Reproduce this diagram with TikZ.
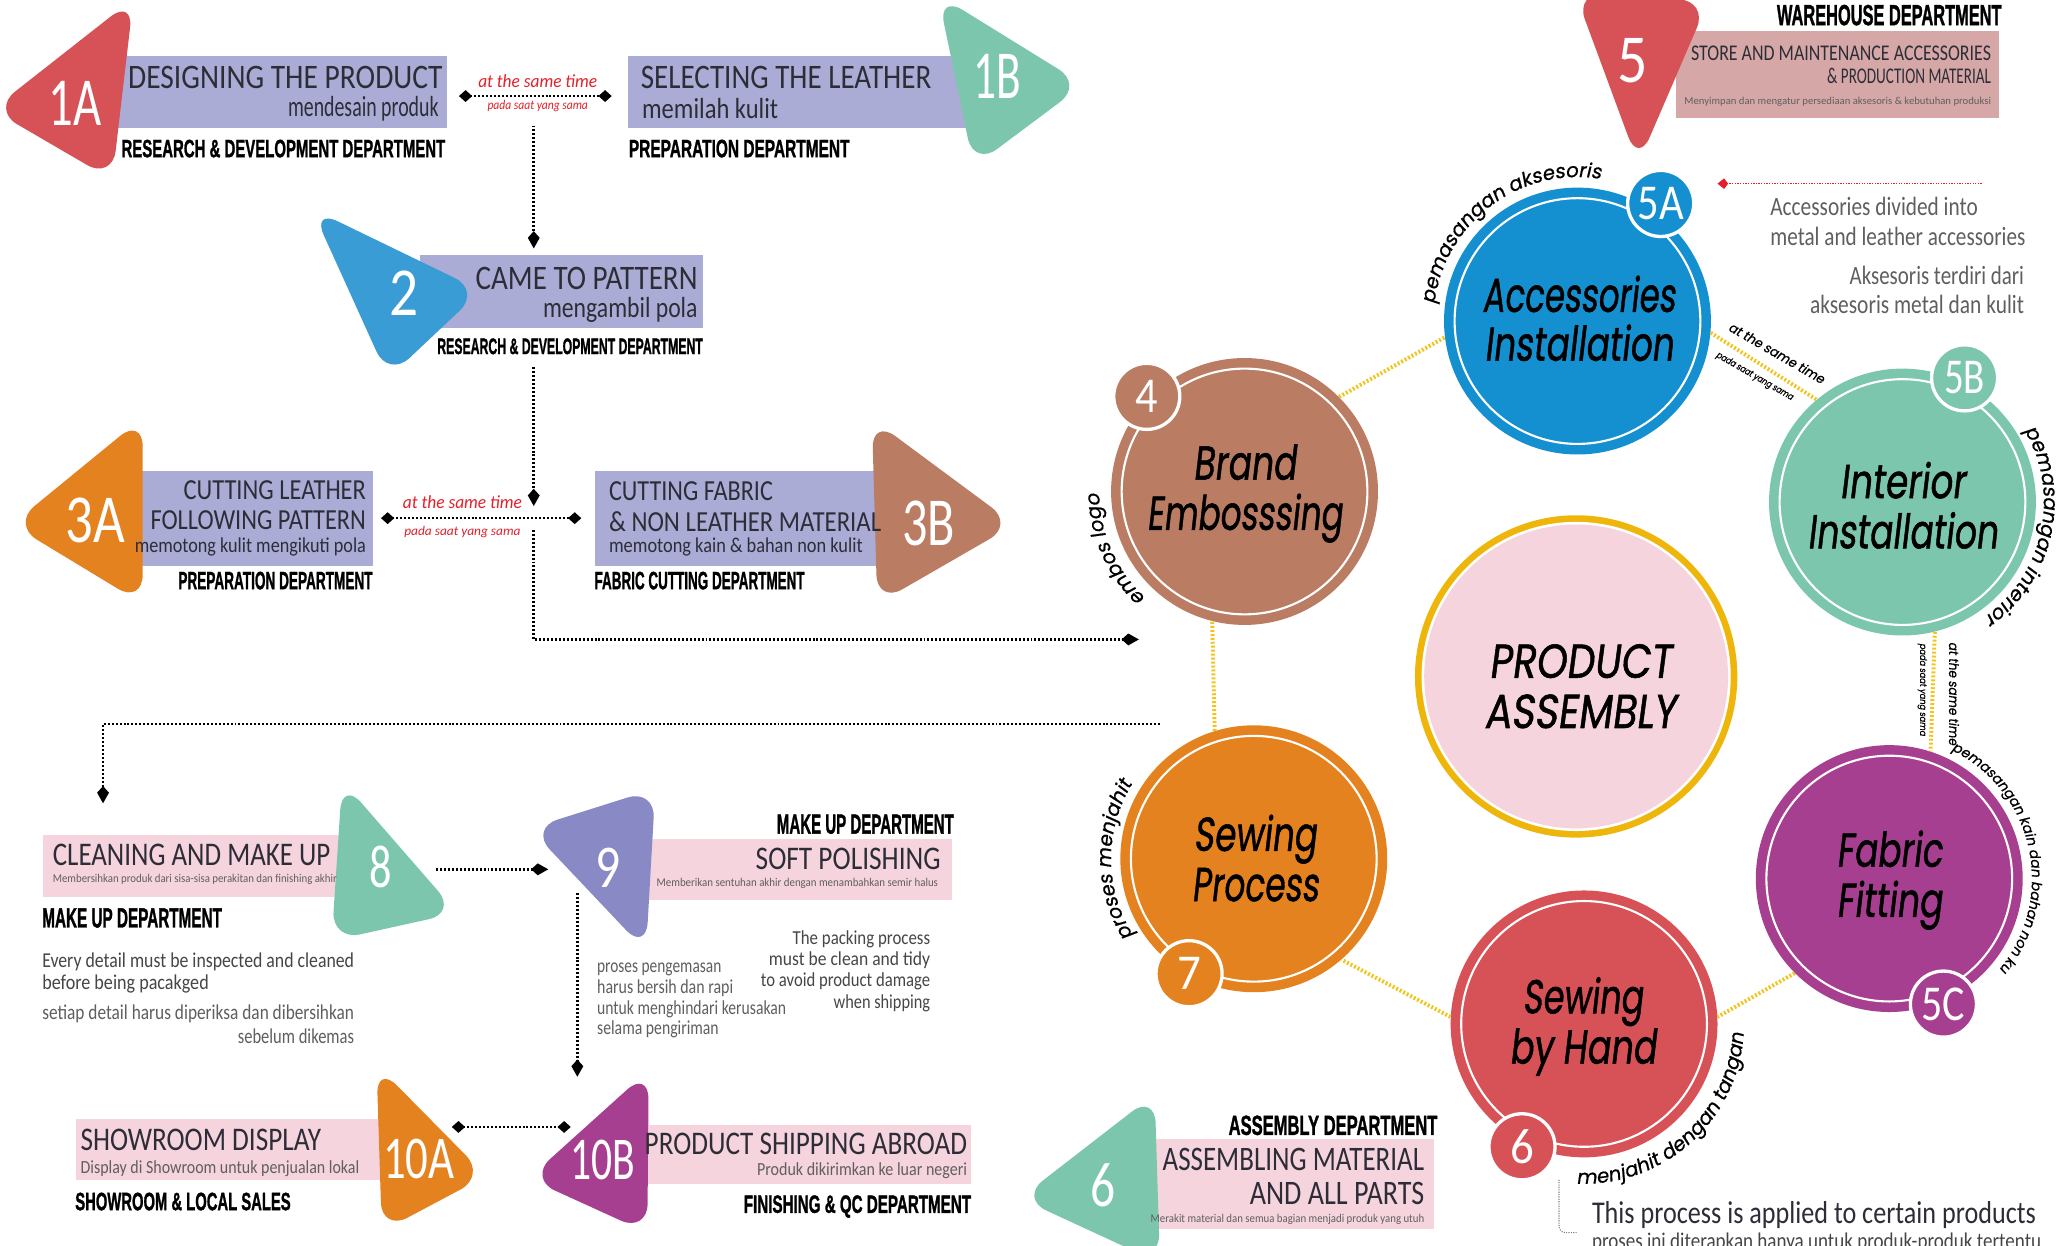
\documentclass[tikz,border=0pt]{standalone}
\usepackage{fontspec}
\usepackage{graphicx}
\setmainfont{Carlito}
\newfontfamily\deptf[BoldFeatures={FakeBold=1.5}]{Liberation Sans}
\newfontfamily\circf[FakeSlant=0.16,FakeBold=1.2]{Poppins}
\newfontfamily\circl[FakeSlant=0.16,FakeBold=0.6]{Poppins}
\usetikzlibrary{arrows.meta,decorations.text}
\definecolor{cred}{RGB}{214,82,87}
\definecolor{cgreen}{RGB}{125,198,174}
\definecolor{cblue}{RGB}{58,156,212}
\definecolor{cacc}{RGB}{20,143,208}
\definecolor{corange}{RGB}{229,130,32}
\definecolor{cbrown}{RGB}{186,124,99}
\definecolor{cpurple}{RGB}{137,137,198}
\definecolor{cmag}{RGB}{167,63,144}
\definecolor{clav}{RGB}{170,172,214}
\definecolor{cpink}{RGB}{246,212,222}
\definecolor{crose}{RGB}{213,168,167}
\definecolor{cyel}{RGB}{238,182,10}
\definecolor{cydot}{RGB}{242,196,30}
\definecolor{sred}{RGB}{226,32,42}
\definecolor{tgray}{RGB}{45,45,55}
\definecolor{bgray}{RGB}{70,70,70}
\definecolor{lgray}{RGB}{95,95,95}
\newcommand\twd[2]{\resizebox{#1pt}{\height}{#2}}
\newcommand\dept[2]{{\deptf\bfseries\resizebox{#1pt}{\height}{#2}}}
\newcommand\tabshape[4]{\fill[#1,rounded corners=22pt] #2 -- #3 -- #4 -- cycle;}
\newcommand\arctxtA{\circl\fontsize{15}{15}\selectfont}
\newcommand\arctxtB{\circl\fontsize{10.5}{11}\selectfont}
\begin{document}
\begin{tikzpicture}[x=1pt,y=-1pt,
  lbl/.style={inner sep=0,outer sep=0},
  atE/.style={lbl,anchor=base east},
  atW/.style={lbl,anchor=base west},
  atC/.style={lbl,anchor=base},
  ttl/.style={text=tgray,font=\fontsize{26}{28}\selectfont},
  ttlb/.style={text=tgray,font=\fontsize{22}{24}\selectfont},
  subtxt/.style={text=tgray,font=\fontsize{22}{24}\selectfont},
  subsm/.style={text=tgray,font=\fontsize{16}{18}\selectfont},
  dep/.style={text=black,font=\fontsize{19}{20}\selectfont},
  tinytxt/.style={text=lgray,font=\fontsize{9}{10}\selectfont},
  bodytxt/.style={text=bgray,font=\fontsize{16}{18}\selectfont},
  notetxt/.style={text=lgray,font=\fontsize{20}{22}\selectfont},
  redtxt/.style={text=sred,font=\itshape\fontsize{14}{15}\selectfont},
  redsm/.style={text=sred,font=\itshape\fontsize{10}{11}\selectfont},
  tabnum/.style={lbl,text=white,font=\fontsize{52}{52}\selectfont},
  circnum/.style={circle,draw=white,line width=2.5pt,minimum size=50pt,inner sep=0,text=white,font=\fontsize{38}{38}\selectfont},
  bigc/.style={circle,minimum size=202pt,inner sep=0},
  clab/.style={lbl,anchor=base,text=black,font=\circf\fontsize{36}{36}\selectfont},
  rbox/.style={inner sep=0,anchor=north west},
  bdot/.style={line width=2pt,dash pattern=on 1.5pt off 1.5pt},
  ydot/.style={draw=cydot,line width=3pt,dash pattern=on 1.5pt off 1.5pt},
  onearrow/.style={-{Kite[length=13pt,width=9pt,inset=5pt]}},
  twoarrow/.style={{Kite[length=10pt,width=9pt,inset=5pt]}-{Kite[length=10pt,width=9pt,inset=5pt]}},
  ytxt/.style={lbl,text=black,font=\circl\fontsize{10}{10}\selectfont},
  ytxtsm/.style={lbl,text=black,font=\circl\fontsize{7}{7}\selectfont}
]
\fill[white] (0,0) rectangle (1560,943);
\useasboundingbox (0,0) rectangle (1560,943);

% ---------- rectangles ----------
\node[rbox,fill=clav,minimum width=250pt,minimum height=55pt] (r1a) at (88,42) {};
\node[rbox,fill=clav,minimum width=260pt,minimum height=55pt] (r1b) at (475,42) {};
\node[rbox,fill=clav,minimum width=214pt,minimum height=55pt] (r2) at (318,193) {};
\node[rbox,fill=clav,minimum width=185pt,minimum height=72pt] (r3a) at (97,356) {};
\node[rbox,fill=clav,minimum width=240pt,minimum height=72pt] (r3b) at (450,356) {};
\node[rbox,fill=cpink,minimum width=253pt,minimum height=47pt] (r8) at (32,632) {};
\node[rbox,fill=cpink,minimum width=238pt,minimum height=46pt] (r9) at (482,635) {};
\node[rbox,fill=cpink,minimum width=233pt,minimum height=46pt] (r10a) at (57,847) {};
\node[rbox,fill=cpink,minimum width=265pt,minimum height=45pt] (r10b) at (470,851) {};
\node[rbox,fill=cpink,minimum width=228pt,minimum height=68pt] (r6) at (857,862) {};
\node[rbox,fill=crose,minimum width=245pt,minimum height=66pt] (r5) at (1268,23) {};

% ---------- tabs ----------
\tabshape{cred}{(101,-1)}{(-6,83)}{(85,136)}
\tabshape{cgreen}{(710,-4)}{(820,64)}{(737,126)}
\tabshape{cblue}{(236,158)}{(364,220)}{(294,286)}
\tabshape{corange}{(108,316)}{(9,397)}{(108,457)}
\tabshape{cbrown}{(660,317)}{(768,397)}{(664,457)}
\tabshape{cgreen}{(259,591)}{(346,691)}{(251,712)}
\tabshape{cpurple}{(496,597)}{(401,627)}{(489,720)}
\tabshape{corange}{(285,806)}{(368,890)}{(289,932)}
\tabshape{cmag}{(491,810)}{(400,892)}{(490,933)}
\tabshape{cgreen}{(874,828)}{(772,907)}{(878,956)}
\tabshape{cred}{(1192,-6)}{(1293,1)}{(1240,124)}

\node[tabnum] (n1a) at (57,78) {\twd{40}{1A}};
\node[tabnum] (n1b) at (755,58) {\twd{36}{1B}};
\node[tabnum] (n2) at (306,222) {\twd{22}{2}};
\node[tabnum] (n3a) at (72,394) {\twd{45}{3A}};
\node[tabnum] (n3b) at (703,396) {\twd{40}{3B}};
\node[tabnum,font=\fontsize{46}{46}\selectfont] (n8) at (288,656) {\twd{17}{8}};
\node[tabnum,font=\fontsize{46}{46}\selectfont] (n9) at (460,657) {\twd{19}{9}};
\node[tabnum,font=\fontsize{46}{46}\selectfont] (n10a) at (317,877) {\twd{54}{10A}};
\node[tabnum,font=\fontsize{46}{46}\selectfont] (n10b) at (456,878) {\twd{49}{10B}};
\node[tabnum,font=\fontsize{48}{48}\selectfont] (n6t) at (835,897) {\twd{19}{6}};
\node[tabnum] (n5t) at (1236,46) {\twd{23}{5}};

% ---------- texts, left part ----------
\node[atE,ttl] at (335,67) {\twd{238}{DESIGNING THE PRODUCT}};
\node[atE,subtxt] at (332,88) {\twd{114}{mendesain produk}};
\node[atE,dep] at (337,119) {\dept{245}{RESEARCH \& DEVELOPMENT DEPARTMENT}};
\node[atW,ttl] at (485,67) {\twd{220}{SELECTING THE LEATHER}};
\node[atW,subtxt] at (486,90) {\twd{103}{memilah kulit}};
\node[atW,dep] at (476,119) {\dept{167}{PREPARATION DEPARTMENT}};
\node[atC,redtxt] at (407,66) {\twd{90}{at the same time}};
\node[atC,redsm] at (407,83) {\twd{76}{pada saat yang sama}};

\node[atE,ttl] at (528,219) {\twd{168}{CAME TO PATTERN}};
\node[atE,subtxt] at (528,240) {\twd{117}{mengambil pola}};
\node[atE,dep,font=\fontsize{17}{18}\selectfont] at (532,268) {\dept{201}{RESEARCH \& DEVELOPMENT DEPARTMENT}};

\node[atE,ttlb] at (277,378) {\twd{138}{CUTTING LEATHER}};
\node[atE,ttlb] at (277,401) {\twd{163}{FOLLOWING PATTERN}};
\node[atE,subsm] at (277,418) {\twd{175}{memotong kulit mengikuti pola}};
\node[atE,dep] at (282,446) {\dept{147}{PREPARATION DEPARTMENT}};
\node[atW,ttlb] at (461,379) {\twd{124}{CUTTING FABRIC}};
\node[atW,ttlb] at (461,402) {\twd{206}{\& NON LEATHER MATERIAL}};
\node[atW,subsm] at (461,418) {\twd{192}{memotong kain \& bahan non kulit}};
\node[atW,dep] at (450,446) {\dept{159}{FABRIC CUTTING DEPARTMENT}};
\node[atC,redtxt] at (350,385) {\twd{90}{at the same time}};
\node[atC,redsm] at (350,405) {\twd{88}{pada saat yang sama}};

\node[atW,ttl,font=\fontsize{25}{26}\selectfont] at (40,655) {\twd{210}{CLEANING AND MAKE UP}};
\node[atW,tinytxt] at (40,668) {\twd{215}{Membersihkan produk dari sisa-sisa perakitan dan finishing akhir}};
\node[atW,dep,font=\fontsize{21}{22}\selectfont] at (32,702) {\dept{136}{MAKE UP DEPARTMENT}};
\node[atE,ttl,font=\fontsize{25}{26}\selectfont] at (712,658) {\twd{140}{SOFT POLISHING}};
\node[atE,tinytxt] at (710,671) {\twd{213}{Memberikan sentuhan akhir dengan menambahkan semir halus}};
\node[atE,dep,font=\fontsize{21}{22}\selectfont] at (722,631) {\dept{134}{MAKE UP DEPARTMENT}};

\node[atW,bodytxt] at (32,732) {\twd{236}{Every detail must be inspected and cleaned}};
\node[atW,bodytxt] at (32,749) {\twd{126}{before being pacakged}};
\node[atE,bodytxt,text=lgray] at (268,772) {\twd{236}{setiap detail harus diperiksa dan dibersihkan}};
\node[atE,bodytxt,text=lgray] at (268,790) {\twd{88}{sebelum dikemas}};
\node[atE,bodytxt,font=\fontsize{15}{16}\selectfont] at (704,715) {\twd{104}{The packing process}};
\node[atE,bodytxt,font=\fontsize{15}{16}\selectfont] at (704,731) {\twd{122}{must be clean and tidy}};
\node[atE,bodytxt,font=\fontsize{15}{16}\selectfont] at (704,747) {\twd{128}{to avoid product damage}};
\node[atE,bodytxt,font=\fontsize{15}{16}\selectfont] at (704,763) {\twd{73}{when shipping}};
\node[atW,bodytxt,text=lgray,font=\fontsize{15}{16}\selectfont] at (452,736) {\twd{94}{proses pengemasan}};
\node[atW,bodytxt,text=lgray,font=\fontsize{15}{16}\selectfont] at (452,752) {\twd{103}{harus bersih dan rapi}};
\node[atW,bodytxt,text=lgray,font=\fontsize{15}{16}\selectfont] at (452,768) {\twd{143}{untuk menghindari kerusakan}};
\node[atW,bodytxt,text=lgray,font=\fontsize{15}{16}\selectfont] at (452,783) {\twd{92}{selama pengiriman}};

\node[atW,ttl,font=\fontsize{25}{26}\selectfont] at (61,871) {\twd{182}{SHOWROOM DISPLAY}};
\node[atW,subsm,text=lgray,font=\fontsize{14}{15}\selectfont] at (61,888) {\twd{211}{Display di Showroom untuk penjualan lokal}};
\node[atW,dep] at (57,916) {\dept{163}{SHOWROOM \& LOCAL SALES}};
\node[atE,ttl,font=\fontsize{25}{26}\selectfont] at (732,874) {\twd{244}{PRODUCT SHIPPING ABROAD}};
\node[atE,subsm,text=lgray,font=\fontsize{14}{15}\selectfont] at (732,890) {\twd{159}{Produk dikirimkan ke luar negeri}};
\node[atE,dep] at (735,918) {\dept{172}{FINISHING \& QC DEPARTMENT}};

\node[atE,dep,font=\fontsize{21}{22}\selectfont] at (1088,859) {\dept{158}{ASSEMBLY DEPARTMENT}};
\node[atE,ttl] at (1078,886) {\twd{198}{ASSEMBLING MATERIAL}};
\node[atE,ttl] at (1078,912) {\twd{132}{AND ALL PARTS}};
\node[atE,tinytxt] at (1078,925) {\twd{207}{Merakit material dan semua bagian menjadi produk yang utuh}};

\node[atE,dep,font=\fontsize{22}{23}\selectfont] at (1515,19) {\dept{170}{WAREHOUSE DEPARTMENT}};
\node[atE,ttl,font=\fontsize{17}{18}\selectfont] at (1507,46) {\twd{227}{STORE AND MAINTENANCE ACCESSORIES}};
\node[atE,ttl,font=\fontsize{17}{18}\selectfont] at (1507,63) {\twd{124}{\& PRODUCTION MATERIAL}};
\node[atE,tinytxt,font=\fontsize{8}{9}\selectfont] at (1507,79) {\twd{232}{Menyimpan dan mengatur persediaan aksesoris \& kebutuhan produksi}};

\node[atW,notetxt] at (1340,163) {\twd{157}{Accessories divided into}};
\node[atW,notetxt] at (1340,186) {\twd{193}{metal and leather accessories}};
\node[atE,notetxt] at (1532,215) {\twd{132}{Aksesoris terdiri dari}};
\node[atE,notetxt] at (1532,237) {\twd{162}{aksesoris metal dan kulit}};

\node[atW,ttl,font=\fontsize{24}{25}\selectfont] at (1205,926) {\twd{336}{This process is applied to certain products}};
\node[atW,bodytxt,font=\fontsize{17}{18}\selectfont] at (1205,945) {\twd{340}{proses ini diterapkan hanya untuk produk-produk tertentu}};

% ---------- black connectors ----------
\coordinate (j1) at (404,95);
\coordinate (j2) at (404,278);
\coordinate (j3) at (404,393);
\coordinate (e1) at (862,484);
\coordinate (s1) at (878,548);
\coordinate (e2) at (78,608);
\coordinate (t8) at (330,658);
\coordinate (t9) at (415,658);
\coordinate (t9b) at (437,676);
\coordinate (t10b) at (437,815);
\coordinate (t10a) at (342,853);
\coordinate (t10bl) at (432,853);
\draw[bdot,twoarrow] ([xshift=9pt,yshift=-3pt]r1a.east) -- ([xshift=-12pt,yshift=-3pt]r1b.west);
\draw[bdot,onearrow,shorten >=5pt] (j1) -- (j1 |- r2.north);
\draw[bdot,onearrow] (j2) -- ([yshift=10pt]j3);
\draw[bdot,twoarrow] ([xshift=6pt]r3a.east) -- ([xshift=-10pt]r3b.west);
\draw[bdot,onearrow] ([yshift=-8pt]j3) |- (e1);
\draw[bdot,onearrow] (s1) -| (e2);
\draw[bdot,onearrow] (t8) -- (t9);
\draw[bdot,onearrow] (t9b) -- (t10b);
\draw[bdot,twoarrow] (t10a) -- (t10bl);

% ---------- circles ----------
\node[bigc,fill=cacc] (acc) at (1194,243) {};
\node[bigc,fill=cgreen] (int) at (1440,380) {};
\node[bigc,fill=cbrown] (brand) at (942,372) {};
\node[bigc,fill=corange] (sewp) at (949,650) {};
\node[bigc,fill=cred] (sewh) at (1199,775) {};
\node[bigc,fill=cmag] (fab) at (1430,665) {};
\node[circle,fill=cyel,minimum size=244pt,inner sep=0] (prod) at (1193,512) {};
\fill[white] (prod.center) circle[radius=117pt];
\fill[cpink] (prod.center) circle[radius=115pt];
\foreach \c in {acc,int,brand,sewp,sewh,fab}
  \draw[white,line width=1.6pt] (\c.center) circle[radius=93pt];

% yellow connectors
\draw[ydot] (brand.45) -- (acc.187);
\draw[ydot] (acc.-5) -- (int.130);
\draw[ydot] (int.-76) -- (fab.72);
\draw[ydot] (fab.225) -- (sewh.3);
\draw[ydot] (sewh.177) -- (sewp.-49);
\draw[ydot] (sewp.107) -- (brand.256);

\node[ytxt,rotate=-30] at (1345,267) {\twd{82}{at the same time}};
\node[ytxtsm,rotate=-30] at (1328,285) {\twd{66}{pada saat yang sama}};
\node[ytxt,rotate=-90] at (1479,525) {\twd{78}{at the same time}};
\node[ytxtsm,rotate=-90] at (1455,522) {\twd{70}{pada saat yang sama}};

% small number circles
\node[circnum,fill=cacc] (n5a) at (1257,154) {\twd{35}{5A}};
\node[circnum,fill=cgreen] (n5b) at (1487,286) {\twd{31}{5B}};
\node[circnum,fill=cbrown] (n4) at (868,300) {\twd{17}{4}};
\node[circnum,fill=corange] (n7) at (900,737) {\twd{18}{7}};
\node[circnum,fill=cred] (n6) at (1152,868) {\twd{18}{6}};
\node[circnum,fill=cmag] (n5c) at (1471,760) {\twd{33}{5C}};

% circle labels
\node[clab] at (1195,236) {\twd{146}{Accessories}};
\node[clab] at (1195,273) {\twd{143}{Installation}};
\node[clab] at (1440,377) {\twd{95}{Interior}};
\node[clab] at (1440,415) {\twd{144}{Installation}};
\node[clab] at (942,363) {\twd{78}{Brand}};
\node[clab] at (942,401) {\twd{148}{Embosssing}};
\node[clab] at (1196,513) {\twd{138}{PRODUCT}};
\node[clab] at (1196,551) {\twd{145}{ASSEMBLY}};
\node[clab] at (950,644) {\twd{93}{Sewing}};
\node[clab] at (950,682) {\twd{96}{Process}};
\node[clab] at (1198,767) {\twd{91}{Sewing}};
\node[clab] at (1198,805) {\twd{111}{by Hand}};
\node[clab] at (1430,656) {\twd{80}{Fabric}};
\node[clab] at (1430,694) {\twd{80}{Fitting}};

% curved labels
\path[decorate,decoration={text along path,text={|\arctxtA|pemasangan aksesoris},text align=center}]
  (acc.center) ++(177:109pt) arc[start angle=177,end angle=77,radius=109pt];
\path[decorate,decoration={text along path,text={|\arctxtA|embos logo},text align=center}]
  (brand.center) ++(234:110pt) arc[start angle=234,end angle=174,radius=110pt];
\path[decorate,decoration={text along path,text={|\arctxtA|pemasangan interior},text align=center}]
  (int.center) ++(33:107pt) arc[start angle=33,end angle=-57,radius=107pt];
\path[decorate,decoration={text along path,text={|\arctxtB|pemasangan kain dan bahan non kulit},text align=center}]
  (fab.center) ++(60:108pt) arc[start angle=60,end angle=-40,radius=108pt];
\path[decorate,decoration={text along path,text={|\arctxtA|proses menjahit},text align=center}]
  (sewp.center) ++(213:108pt) arc[start angle=213,end angle=148,radius=108pt];
\path[decorate,decoration={text along path,text={|\arctxtA|menjahit dengan tangan},text align=center}]
  (sewh.center) ++(262:121pt) arc[start angle=262,end angle=362,radius=121pt];

% red arrow and grey bracket
\coordinate (rs) at (1500,139);
\coordinate (re) at (1300,139);
\draw[sred,line width=1pt,dash pattern=on 1pt off 1pt,-{Kite[length=8pt,width=8pt,inset=3pt]}] (rs) -- (re);
\coordinate (gb) at (1180,893);
\coordinate (ge) at (1194,933);
\draw[gray,line width=0.8pt,dash pattern=on 0.8pt off 1pt,rounded corners=5pt] (gb) |- (ge);
\end{tikzpicture}
\end{document}
